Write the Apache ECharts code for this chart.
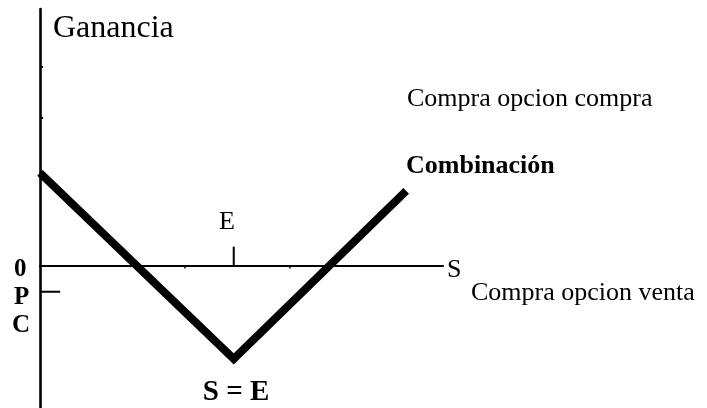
<!DOCTYPE html>
<html>
<head>
<meta charset="utf-8">
<script src="https://cdn.jsdelivr.net/npm/echarts@6/dist/echarts.min.js"></script>
<style>
html,body{margin:0;padding:0;background:#fff;}
#chart{width:707px;height:408px;}
</style>
</head>
<body>
<div id="chart"></div>
<script>
// Payoff of the combination (straddle): stock price S vs profit
const priceS = [0, 50, 94.5];
const profit = [24.1, -24.1, 19.4];
const strikeE = 50;
const tickLenE = 5;
const levelP = -6.7;
const tickLenP = 5.2;
const yNubs = [51.5, 38.3];
const xNubs = [37.4, 64.5];

const FONT = "'Liberation Serif','Times New Roman','DejaVu Serif',serif";
const chart = echarts.init(document.getElementById('chart'), null, {renderer: 'canvas'});

const seg = (pts) => ({
  type: 'line', data: pts, symbol: 'none', silent: true, animation: false,
  lineStyle: {color: '#000', width: 2, cap: 'butt'}
});

const series = [
  {
    type: 'line', name: 'Combinación',
    data: priceS.map((s, i) => [s, profit[i]]),
    symbol: 'none', animation: false,
    lineStyle: {color: '#000', width: 8, cap: 'butt', join: 'miter'}
  },
  seg([[strikeE, 0], [strikeE, tickLenE]]),
  seg([[0, levelP], [tickLenP, levelP]])
];
yNubs.forEach(v => series.push(seg([[0, v], [0.8, v]])));
xNubs.forEach(v => series.push(Object.assign(seg([[v, 0], [v, -0.7]]), {lineStyle: {color: '#000', width: 1.5}})));

const txt = (text, x, y, size, bold, align) => ({
  type: 'text', x: x, y: y, silent: true,
  style: {text: text, font: (bold ? 'bold ' : '') + size + 'px ' + FONT,
          fill: '#000', align: align || 'left', verticalAlign: 'middle'}
});

chart.setOption({
  animation: false,
  backgroundColor: '#fff',
  grid: {left: 40, right: 264, top: 9, bottom: 0, containLabel: false},
  xAxis: {
    type: 'value', min: 0, max: 104,
    axisLine: {show: true, onZero: true, lineStyle: {color: '#000', width: 2}},
    axisTick: {show: false}, axisLabel: {show: false}, splitLine: {show: false}
  },
  yAxis: {
    type: 'value', min: -36.8, max: 66.5,
    axisLine: {show: true, onZero: false, lineStyle: {color: '#000', width: 2.6}},
    axisTick: {show: false}, axisLabel: {show: false}, splitLine: {show: false}
  },
  series: series,
  graphic: [
    txt('Ganancia', 53, 29, 32, false),
    txt('Compra opcion compra', 407, 99, 26, false),
    txt('Combinación', 406, 166, 26, true),
    txt('E', 227, 222, 26, false, 'center'),
    txt('S', 447, 270, 26, false),
    txt('Compra opcion venta', 471, 293, 26, false),
    txt('0', 14, 270, 25, true),
    txt('P', 14, 298, 25, true),
    txt('C', 12, 326, 25, true),
    txt('S = E', 236, 393, 29, true, 'center')
  ]
});
</script>
</body>
</html>
